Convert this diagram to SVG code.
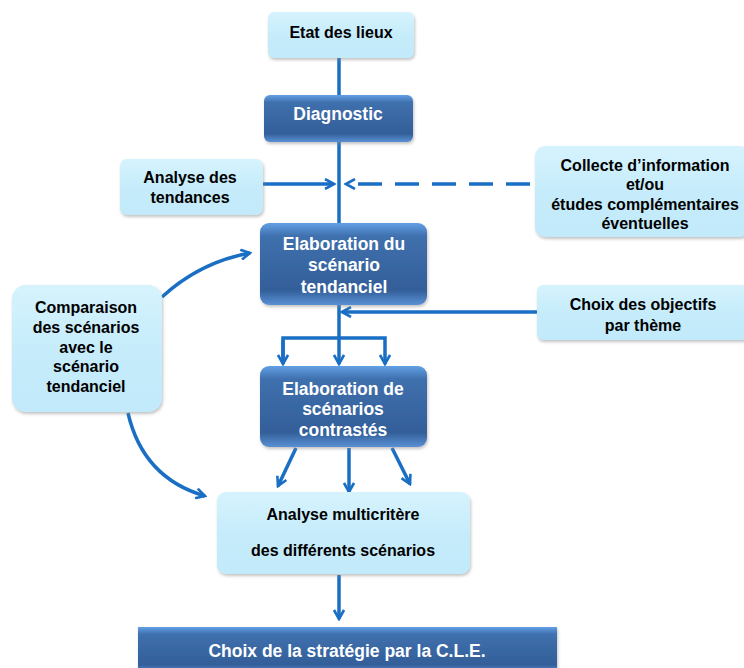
<svg xmlns="http://www.w3.org/2000/svg" width="744" height="668" viewBox="0 0 744 668">
<defs>
<linearGradient id="dk" x1="0" y1="0" x2="0" y2="1">
<stop offset="0" stop-color="#62a0e6"/>
<stop offset="0.16" stop-color="#3f70ad"/>
<stop offset="0.82" stop-color="#335f99"/>
<stop offset="1" stop-color="#5a90d4"/>
</linearGradient>
<linearGradient id="lt" x1="0" y1="0" x2="0" y2="1">
<stop offset="0" stop-color="#d6f3fd"/>
<stop offset="0.5" stop-color="#c6ecfb"/>
<stop offset="1" stop-color="#c2eafa"/>
</linearGradient>
<marker id="ah" viewBox="0 0 12 12" refX="10" refY="6" markerWidth="12" markerHeight="12" markerUnits="userSpaceOnUse" orient="auto">
<path d="M1,1 L10,6 L1,11" fill="none" stroke="#1a6fc4" stroke-width="2.6"/>
</marker>
<filter id="sh" x="-10%" y="-10%" width="120%" height="130%">
<feDropShadow dx="1" dy="2" stdDeviation="1.5" flood-color="#888" flood-opacity="0.5"/>
</filter>
</defs>
<style>
.dk{fill:url(#dk);filter:url(#sh)}
.lt{fill:url(#lt);filter:url(#sh)}
.tw{font-family:"Liberation Sans",Arial,sans-serif;font-weight:bold;font-size:17.5px;fill:#ffffff;text-anchor:middle}
.tb{font-family:"Liberation Sans",Arial,sans-serif;font-weight:bold;font-size:16px;fill:#000000;text-anchor:middle}
.c{fill:none;stroke:#1a6fc4;stroke-width:3.5}
</style>
<g id="connectors">
<line class="c" x1="339" y1="58" x2="339" y2="95"/>
<line class="c" x1="339" y1="142" x2="339" y2="223"/>
<line class="c" x1="263" y1="184" x2="334" y2="184" marker-end="url(#ah)"/>
<line class="c" x1="530" y1="184" x2="346" y2="184" stroke-dasharray="24,13" marker-end="url(#ah)"/>
<line class="c" x1="537" y1="312" x2="342" y2="312" marker-end="url(#ah)"/>
<line class="c" x1="339" y1="305" x2="339" y2="364" marker-end="url(#ah)"/>
<polyline class="c" points="283,364 283,338 385,338 385,364" marker-end="url(#ah)"/>
<line class="c" x1="283" y1="340" x2="283" y2="364" marker-end="url(#ah)"/>
<path class="c" d="M162,297 Q200,262 250,253" marker-end="url(#ah)"/>
<path class="c" d="M128,413 Q143,478 205,496" marker-end="url(#ah)"/>
<line class="c" x1="296" y1="448" x2="278" y2="486" marker-end="url(#ah)"/>
<line class="c" x1="349" y1="448" x2="349" y2="492" marker-end="url(#ah)"/>
<line class="c" x1="392" y1="448" x2="410" y2="484" marker-end="url(#ah)"/>
<line class="c" x1="339" y1="575" x2="339" y2="619" marker-end="url(#ah)"/>
</g>
<g id="etat">
<rect class="lt" x="268" y="12" width="146" height="46" rx="6"/>
<text class="tb" x="341" y="38">Etat des lieux</text>
</g>
<g id="diagnostic">
<rect class="dk" x="264" y="95" width="149" height="47" rx="6"/>
<text class="tw" x="338" y="120">Diagnostic</text>
</g>
<g id="analyse-tendances">
<rect class="lt" x="120" y="159" width="143" height="56" rx="7"/>
<text class="tb" x="190" y="183">Analyse des</text>
<text class="tb" x="190" y="203">tendances</text>
</g>
<g id="collecte">
<rect class="lt" x="535" y="146" width="215" height="91" rx="10"/>
<text class="tb" x="645" y="171">Collecte d’information</text>
<text class="tb" x="645" y="190">et/ou</text>
<text class="tb" x="645" y="210">études complémentaires</text>
<text class="tb" x="645" y="229">éventuelles</text>
</g>
<g id="elab-tendanciel">
<rect class="dk" x="260" y="223" width="167" height="82" rx="9"/>
<text class="tw" x="344" y="250">Elaboration du</text>
<text class="tw" x="344" y="271">scénario</text>
<text class="tw" x="344" y="293">tendanciel</text>
</g>
<g id="choix-objectifs">
<rect class="lt" x="537" y="285" width="215" height="55" rx="6"/>
<text class="tb" x="643" y="310">Choix des objectifs</text>
<text class="tb" x="643" y="331">par thème</text>
</g>
<g id="comparaison">
<rect class="lt" x="12" y="285" width="150" height="127" rx="14"/>
<text class="tb" x="86" y="313">Comparaison</text>
<text class="tb" x="86" y="333">des scénarios</text>
<text class="tb" x="86" y="353">avec le</text>
<text class="tb" x="86" y="372">scénario</text>
<text class="tb" x="86" y="392">tendanciel</text>
</g>
<g id="elab-contrastes">
<rect class="dk" x="260" y="366" width="167" height="81" rx="9"/>
<text class="tw" x="343" y="395">Elaboration de</text>
<text class="tw" x="343" y="415">scénarios</text>
<text class="tw" x="343" y="436">contrastés</text>
</g>
<g id="analyse-multicritere">
<rect class="lt" x="217" y="492" width="253" height="82" rx="9"/>
<text class="tb" x="343" y="520">Analyse multicritère</text>
<text class="tb" x="343" y="556">des différents scénarios</text>
</g>
<g id="choix-strategie">
<rect class="dk" x="138" y="627" width="419" height="46" rx="0"/>
<text class="tw" x="347" y="657">Choix de la stratégie par la C.L.E.</text>
</g>
</svg>
